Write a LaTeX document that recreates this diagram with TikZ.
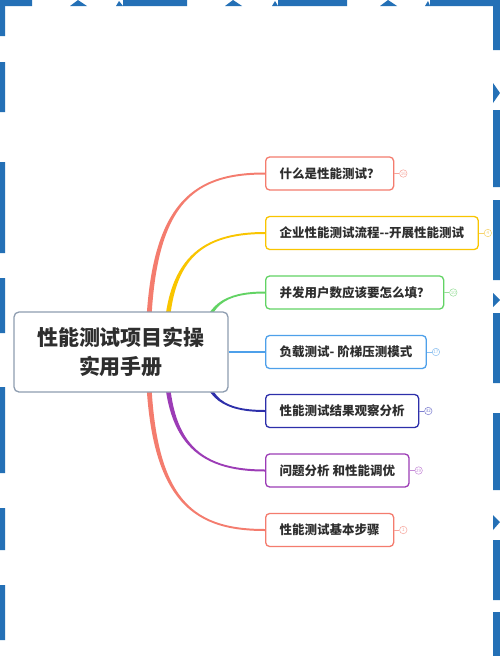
\documentclass[tikz,border=0pt]{standalone}
\usepackage{fontspec}
\setmainfont{Noto Sans CJK SC}
\usetikzlibrary{calc,positioning,backgrounds}
\definecolor{txt}{HTML}{2E2E2E}
\definecolor{rootb}{HTML}{8E9DB0}
\definecolor{frame}{HTML}{2470B6}
\definecolor{cRed}{HTML}{F47C6E}
\definecolor{cYel}{HTML}{F9C500}
\definecolor{cGrn}{HTML}{62D364}
\definecolor{cBlu}{HTML}{4EA0EA}
\definecolor{cInd}{HTML}{2D2FAA}
\definecolor{cPur}{HTML}{9C3CB6}
\definecolor{cCor}{HTML}{F47C6E}
\definecolor{bRed}{HTML}{F7A59C}
\definecolor{bYel}{HTML}{F6D36A}
\definecolor{bGrn}{HTML}{9ADF9B}
\definecolor{bBlu}{HTML}{8CC0F0}
\definecolor{bInd}{HTML}{7D7FD0}
\definecolor{bPur}{HTML}{C68BD8}
\definecolor{bCor}{HTML}{F7A59C}
\newcommand\branchc[6]{%
  \fill[#1] ($(#2)+(-2.5,0)$) .. controls ($(#2)+(-2.5,#4)$) and ($(#3.west)+(#5,#6)$) .. ($(#3.west)+(0,#6)$)
    -- ($(#3.west)+(0,{-(#6)})$) .. controls ($(#3.west)+(#5,{-(#6)})$) and ($(#2)+(2.5,#4)$) .. ($(#2)+(2.5,0)$) -- cycle;}
\tikzset{
  leafbox/.style={draw=#1, line width=1.3pt, rounded corners=4pt, fill=white, inner xsep=14pt,
    minimum height=33pt, anchor=west, font=\fontsize{12.5}{14}\selectfont\bfseries, text=txt},
  badgec/.style={circle, draw=#1, line width=0.5pt, minimum size=7.5pt, inner sep=0pt,
    font=\fontsize{4.5}{4.5}\selectfont, text=#1, fill=white},
  badgeline/.style={draw=#1, line width=0.5pt},
  rootbox/.style={draw=rootb, line width=1.3pt, rounded corners=5pt, fill=white,
    minimum width=214pt, minimum height=80pt, align=center,
    font=\fontsize{21}{29}\selectfont\bfseries, text=txt},
}
\begin{document}
\begin{tikzpicture}[x=1pt,y=-1pt]
\useasboundingbox (0,0) rectangle (500,656);
% nodes
\node[rootbox] (root) at (121,352) {性能测试项目实操\\实用手册};
\node[leafbox=cRed] (b1) at (265,173.5) {什么是性能测试？};
\node[leafbox=cYel] (b2) at (265,233) {企业性能测试流程-{}-开展性能测试};
\node[leafbox=cGrn] (b3) at (265,292.5) {并发用户数应该要怎么填？};
\node[leafbox=cBlu] (b4) at (265,352) {负载测试- 阶梯压测模式};
\node[leafbox=cInd] (b5) at (265,411) {性能测试结果观察分析};
\node[leafbox=cPur] (b6) at (265,470.5) {问题分析 和性能调优};
\node[leafbox=cCor] (b7) at (265,530) {性能测试基本步骤};
% badges
\node[badgec=bRed, right=5pt of b1] (n1) {16};
\node[badgec=bYel, right=5pt of b2] (n2) {4};
\node[badgec=bGrn, right=5pt of b3] (n3) {10};
\node[badgec=bBlu, right=5pt of b4] (n4) {17};
\node[badgec=bInd, right=5pt of b5] (n5) {32};
\node[badgec=bPur, right=5pt of b6] (n6) {29};
\node[badgec=bCor, right=5pt of b7] (n7) {1};
\draw[badgeline=bRed] (b1.east) -- (n1.west);
\draw[badgeline=bYel] (b2.east) -- (n2.west);
\draw[badgeline=bGrn] (b3.east) -- (n3.west);
\draw[badgeline=bBlu] (b4.east) -- (n4.west);
\draw[badgeline=bInd] (b5.east) -- (n5.west);
\draw[badgeline=bPur] (b6.east) -- (n6.west);
\draw[badgeline=bCor] (b7.east) -- (n7.west);
% branch start points
\coordinate (s1) at (148,355);
\coordinate (s2) at (166,350);
\coordinate (s3) at (204,345);
\coordinate (s5) at (204,359);
\coordinate (s6) at (166,354);
\coordinate (s7) at (148,349);
\begin{pgfonlayer}{background}
  \fill[white] (0,0) rectangle (500,656);
  % decorative frame
  \fill[frame] (0,0) rectangle (32,6) (123,0) rectangle (187,6) (278,0) rectangle (347,6) (430,0) rectangle (500,6);
  \fill[frame] (70,6) -- (78,0) -- (87,6) -- cycle (225,6) -- (233,0) -- (242,6) -- cycle (380,6) -- (388,0) -- (397,6) -- cycle;
  \fill[frame] (116,6) -- (119,1) -- (123,6) -- cycle (272,6) -- (275,1) -- (278,6) -- cycle (425,6) -- (428,1) -- (430,6) -- cycle;
  \fill[frame] (0,0) rectangle (5,36) (0,62) rectangle (5,112) (0,162) rectangle (5,253)
    (0,278) rectangle (5,333) (0,387) rectangle (5,473) (0,508) rectangle (5,550) (0,585) rectangle (5,640);
  \fill[frame] (493,0) rectangle (500,50) (493,110) rectangle (500,187) (493,200) rectangle (500,280)
    (493,313) rectangle (500,383) (493,413) rectangle (500,490) (493,540) rectangle (500,600) (493,612) rectangle (500,656);
  \fill[frame] (493,83) -- (500,93) -- (493,103) -- cycle (493,293) -- (500,300) -- (493,307) -- cycle
    (493,515) -- (500,522) -- (493,530) -- cycle;
  % branches
  \branchc{cRed}{s1}{b1}{-150}{-75}{-1}
  \branchc{cYel}{s2}{b2}{-85}{-70}{-1}
  \branchc{cGrn}{s3}{b3}{-40}{-40}{-1}
  \draw[cBlu, line width=2.4pt] (root.east) -- (b4.west);
  \branchc{cInd}{s5}{b5}{40}{-40}{1}
  \branchc{cPur}{s6}{b6}{85}{-70}{1}
  \branchc{cCor}{s7}{b7}{150}{-75}{1}
\end{pgfonlayer}
\end{tikzpicture}
\end{document}
